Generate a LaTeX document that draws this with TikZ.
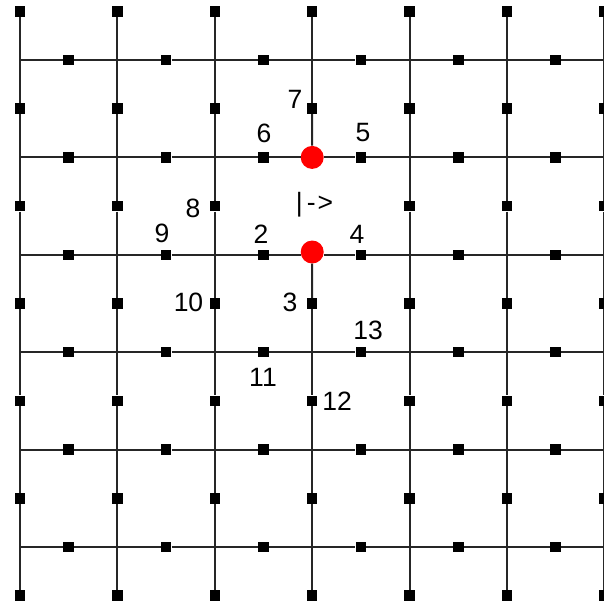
\documentclass[tikz,border=0pt]{standalone}
\usepackage{fontspec}
\setmainfont{Liberation Sans}
\begin{document}
\begin{tikzpicture}[x=1pt,y=-1pt,
  gline/.style={line width=2pt, black!85},
  sq/.style={rectangle, fill=black, minimum size=10.5pt, inner sep=0pt},
  rdot/.style={circle, fill=red, minimum size=23pt, inner sep=0pt},
  lab/.style={font=\fontsize{26.5}{30}\selectfont, inner sep=0pt}]
\useasboundingbox (0,0) rectangle (604,603);
\clip (0,0) rectangle (604,603);
% end points of the horizontal lines
\foreach \j in {0,...,5} {
  \coordinate (hl\j) at (20, 60+97.4*\j);
  \coordinate (hr\j) at (620, 60+97.4*\j);
}
% squares on vertical lines (none at the place of the arrow text)
\foreach \i in {0,...,6} {
  \foreach \k in {0,...,6} {
    \ifnum\i=3 \ifnum\k=2 \else
      \node[sq] (v\i-\k) at (20+97.4*\i, 11.3+97.4*\k) {};
    \fi \else
      \node[sq] (v\i-\k) at (20+97.4*\i, 11.3+97.4*\k) {};
    \fi
  }
}
% squares on horizontal lines
\foreach \j in {0,...,5} {
  \foreach \k in {0,...,5} {
    \node[sq] (h\j-\k) at (68.7+97.4*\k, 60+97.4*\j) {};
  }
}
% red dots
\node[rdot] (dA) at (312.2,157.4) {};
\node[rdot] (dB) at (312.2,252) {};
% horizontal lines
\foreach \j in {0,3,4,5} {
  \draw[gline] (hl\j) -- (h\j-0);
  \foreach \k in {0,...,4} {
    \pgfmathtruncatemacro{\kn}{\k+1}
    \draw[gline] (h\j-\k) -- (h\j-\kn);
  }
  \draw[gline] (h\j-5) -- (hr\j);
}
\foreach \j/\d in {1/dA,2/dB} {
  \draw[gline] (hl\j) -- (h\j-0);
  \foreach \k in {0,1,3,4} {
    \pgfmathtruncatemacro{\kn}{\k+1}
    \draw[gline] (h\j-\k) -- (h\j-\kn);
  }
  \draw[gline] (h\j-2) -- (h\j-2 -| \d.west);
  \draw[gline] (h\j-3 -| \d.east) -- (h\j-3);
  \draw[gline] (h\j-5) -- (hr\j);
}
% vertical lines
\foreach \i in {0,1,2,4,5,6} {
  \foreach \k in {0,...,5} {
    \pgfmathtruncatemacro{\kn}{\k+1}
    \draw[gline] (v\i-\k) -- (v\i-\kn);
  }
}
\draw[gline] (v3-0) -- (v3-1);
\draw[gline] (v3-1) -- (dA);
\draw[gline] (dB) -- (v3-3);
\foreach \k in {3,4,5} {
  \pgfmathtruncatemacro{\kn}{\k+1}
  \draw[gline] (v3-\k) -- (v3-\kn);
}
% labels
\node[lab] (l7) at (295,99) {7};
\node[lab] (l6) at (264,133) {6};
\node[lab] (l5) at (363,133) {5};
\node[lab] (l8) at (193,208) {8};
\node[lab] (l9) at (162,233) {9};
\node[lab] (l2) at (261,234) {2};
\node[lab] (l4) at (357,234) {4};
\node[lab] (l10) at (188.5,302) {10};
\node[lab] (l3) at (290,302) {3};
\node[lab] (l13) at (368,330) {13};
\node[lab] (l11) at (263,377) {11};
\node[lab] (l12) at (337,401) {12};
\node[lab, anchor=base] (arr) at (314.5,211) {|\kern4pt-\kern2pt>};
\end{tikzpicture}
\end{document}
